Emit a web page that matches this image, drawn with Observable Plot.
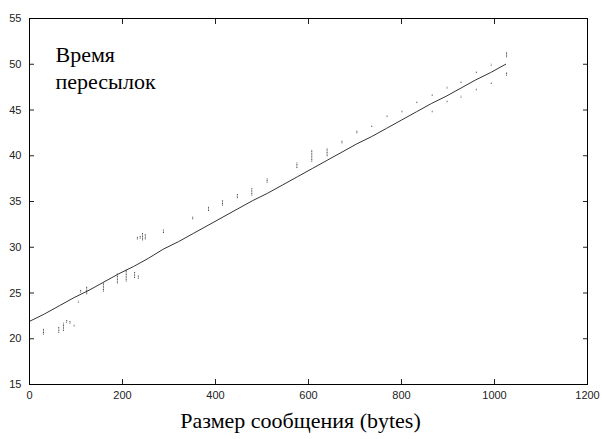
<!DOCTYPE html>
<html>
<head>
<meta charset="utf-8">
<script src="https://cdn.jsdelivr.net/npm/d3@7"></script>
<script src="https://cdn.jsdelivr.net/npm/@observablehq/plot@0.6"></script>
<style>
  html, body { margin: 0; padding: 0; background: white; overflow: hidden; }
</style>
</head>
<body>
<div id="chart"></div>
<script>
// Tick labels
const xTicks = [0, 200, 400, 600, 800, 1000, 1200];
const yTicks = [15, 20, 25, 30, 35, 40, 45, 50, 55];

// Main trend line (message size in bytes vs transfer time)
const lineX = [0, 32, 64, 96, 128, 160, 192, 224, 256, 288, 320, 352, 384, 416, 448, 480, 512,
  544, 576, 608, 640, 672, 704, 736, 768, 800, 832, 864, 896, 928, 960, 992, 1024];
const lineY = [21.9, 22.7, 23.6, 24.5, 25.3, 26.2, 27.1, 27.9, 28.8, 29.8, 30.6, 31.5, 32.4, 33.3, 34.2, 35.1, 35.9,
  36.8, 37.7, 38.6, 39.5, 40.4, 41.3, 42.1, 43.0, 43.9, 44.8, 45.7, 46.5, 47.4, 48.3, 49.1, 50.0];

// Scattered measurements away from the line (x, low, high)
const outX  = [30, 63, 73, 80, 87, 96, 105, 110, 123, 159, 189, 208, 226, 234, 232, 238, 243, 249, 288,
  351, 385, 415, 447, 478, 511, 575, 607, 640, 672, 704, 736, 769, 801, 833,
  866, 866, 898, 898, 928, 928, 961, 961, 993, 993, 1026, 1026];
const outLo = [20.4, 20.6, 20.8, 21.7, 21.6, 21.3, 23.9, 25.0, 24.8, 25.1, 26.0, 26.2, 26.6, 26.5, 30.8, 30.9, 30.7, 30.8, 31.5,
  33.0, 33.9, 34.5, 35.3, 35.6, 37.0, 38.6, 39.3, 39.9, 41.3, 42.4, 43.1, 44.2, 44.7, 45.7,
  46.5, 44.7, 47.3, 45.8, 47.9, 46.3, 49.0, 47.1, 49.8, 47.8, 50.7, 48.7];
const outHi = [21.1, 21.3, 21.7, 22.0, 21.9, 21.5, 24.1, 25.3, 25.7, 26.1, 27.1, 27.5, 27.3, 26.9, 31.1, 31.2, 31.5, 31.4, 31.9,
  33.3, 34.4, 35.1, 35.8, 36.4, 37.5, 39.2, 40.6, 40.8, 41.6, 42.7, 43.3, 44.4, 44.9, 45.9,
  46.7, 44.9, 47.5, 46.0, 48.1, 46.5, 49.2, 47.3, 50.0, 48.0, 51.3, 49.1];

const lineData = lineX.map((x, i) => ({x, y: lineY[i]}));
const outData = outX.map((x, i) => ({x, y1: outLo[i], y2: outHi[i]}));

const titleText = "Время\nпересылок";
const xLabel = "Размер сообщения (bytes)";
const SERIF = "'Liberation Serif', 'Times New Roman', Times, serif";

const chart = Plot.plot({
  width: 602,
  height: 439,
  marginLeft: 29,
  marginRight: 15,
  marginTop: 18,
  marginBottom: 55,
  x: {domain: [0, 1200]},
  y: {domain: [15, 55]},
  style: {fontSize: "11px", color: "#222", background: "white", fontFamily: "'Liberation Sans', Arial, sans-serif"},
  marks: [
    Plot.axisX({anchor: "bottom", ticks: xTicks, tickSize: -5, tickPadding: 12, label: null, tickFormat: d => String(d)}),
    Plot.axisX({anchor: "top", ticks: xTicks, tickSize: -5, label: null, tickFormat: () => ""}),
    Plot.axisY({anchor: "left", ticks: yTicks, tickSize: -5, tickPadding: 13, label: null, tickFormat: d => String(d)}),
    Plot.axisY({anchor: "right", ticks: yTicks, tickSize: -5, label: null, tickFormat: () => ""}),
    Plot.line(lineData, {x: "x", y: "y", stroke: "#333", strokeWidth: 1}),
    Plot.ruleX(outData, {x: "x", y1: "y1", y2: "y2", stroke: "#444", strokeWidth: 1, strokeDasharray: "1,0.6"}),
    Plot.frame({stroke: "black", strokeWidth: 1}),
    Plot.text([titleText], {frameAnchor: "top-left", textAnchor: "start", lineAnchor: "top", dx: 26, dy: 24,
      fontSize: 22, lineHeight: 1.23, fill: "black", fontFamily: SERIF}),
    Plot.text([xLabel], {frameAnchor: "bottom", lineAnchor: "top", dx: -8, dy: 28,
      fontSize: 22, fill: "black", fontFamily: SERIF})
  ]
});
document.getElementById("chart").append(chart);
</script>
</body>
</html>
